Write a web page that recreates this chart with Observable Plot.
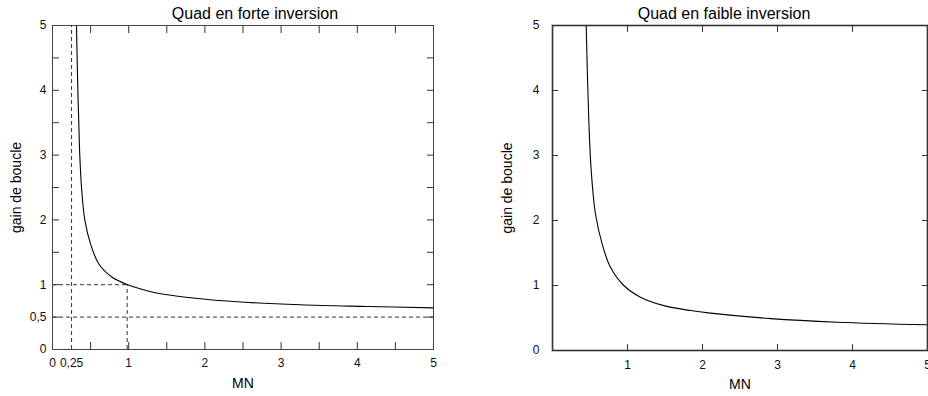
<!DOCTYPE html>
<html>
<head>
<meta charset="utf-8">
<script src="https://cdn.jsdelivr.net/npm/d3@7"></script>
<script src="https://cdn.jsdelivr.net/npm/@observablehq/plot@0.6"></script>
<style>
  html, body { margin: 0; padding: 0; background: #fff; }
  #wrap { display: flex; width: 928px; height: 396px; overflow: hidden; }
  #wrap svg { flex: none; }
</style>
</head>
<body>
<div id="wrap"></div>
<script>
// Left panel: "Quad en forte inversion"
const leftMN   = [0.315, 0.325, 0.335, 0.345, 0.358, 0.381, 0.424, 0.499, 0.608, 0.783, 0.98,  1.264, 1.483, 1.877, 2.38, 3.25, 4.13,  5.0];
const leftGain = [5.0,   4.4,   3.9,   3.5,   3.0,   2.5,   2.0,   1.63,  1.32,  1.116, 1.003, 0.90,  0.849, 0.792, 0.74, 0.69, 0.664, 0.643];

// Right panel: "Quad en faible inversion"
const rightMN   = [0.449, 0.484, 0.516, 0.573, 0.662, 0.773, 0.951, 1.173, 1.484, 1.84,  2.107, 2.91, 3.80,  5.0];
const rightGain = [5.0,   3.54,  2.77,  2.10,  1.64,  1.28,  1.0,   0.82,  0.69,  0.615, 0.575, 0.49, 0.435, 0.395];

// Tick values / labels
const leftXLabels  = [0, 0.25, 1, 2, 3, 4, 5];
const leftYLabels  = [0, 0.5, 1, 2, 3, 4, 5];
const halfSteps    = [0, 0.5, 1, 1.5, 2, 2.5, 3, 3.5, 4, 4.5, 5];
const rightXLabels = [1, 2, 3, 4, 5];
const rightYLabels = [0, 1, 2, 3, 4, 5];
const rightTicks   = [1, 2, 3, 4];

// Reference (dashed) lines on the left panel
const refVX = [{x: 0.25, y1: 0, y2: 5}, {x: 0.98, y1: 0, y2: 1}];
const refHY = [{y: 1, x1: 0, x2: 0.98}, {y: 0.5, x1: 0, x2: 5}];

const leftData  = leftMN.map((x, i) => ({x, y: leftGain[i]}));
const rightData = rightMN.map((x, i) => ({x, y: rightGain[i]}));

const fmt = d => String(d).replace(".", ",");
const font = "'Liberation Sans', Arial, Helvetica, sans-serif";

function labels(title, dxTitle, dxY) {
  return [
    Plot.text([title], {frameAnchor: "top", lineAnchor: "middle", textAnchor: "middle", dy: -12, dx: dxTitle, text: d => d, fontSize: 16, fill: "#000"}),
    Plot.text(["MN"], {frameAnchor: "bottom", lineAnchor: "middle", textAnchor: "middle", dy: 34, text: d => d, fontSize: 14, fill: "#000"}),
    Plot.text(["gain de boucle"], {frameAnchor: "left", lineAnchor: "middle", textAnchor: "middle", dx: dxY, rotate: -90, text: d => d, fontSize: 14, fill: "#000"})
  ];
}

const left = Plot.plot({
  width: 464, height: 396,
  marginLeft: 52, marginRight: 31, marginTop: 25, marginBottom: 47,
  style: {fontFamily: font, fontSize: "12px", color: "#111", background: "#fff"},
  x: {domain: [0, 5]},
  y: {domain: [0, 5]},
  marks: [
    Plot.ruleX(refVX, {x: "x", y1: "y1", y2: "y2", stroke: "#333", strokeDasharray: "4,3"}),
    Plot.ruleY(refHY, {y: "y", x1: "x1", x2: "x2", stroke: "#333", strokeDasharray: "4,3"}),
    Plot.line(leftData, {x: "x", y: "y", curve: "catmull-rom", stroke: "#000", strokeWidth: 1.1}),
    Plot.axisX({anchor: "bottom", ticks: halfSteps, tickSize: -7, tickFormat: () => "", label: null, stroke: "#333"}),
    Plot.axisX({anchor: "top", ticks: halfSteps, tickSize: -7, tickFormat: () => "", label: null, stroke: "#333"}),
    Plot.axisY({anchor: "left", ticks: halfSteps, tickSize: -7, tickFormat: () => "", label: null, stroke: "#333"}),
    Plot.axisY({anchor: "right", ticks: halfSteps, tickSize: -7, tickFormat: () => "", label: null, stroke: "#333"}),
    Plot.axisX({anchor: "bottom", ticks: leftXLabels, tickSize: 0, tickPadding: 9, tickFormat: fmt, label: null}),
    Plot.axisY({anchor: "left", ticks: leftYLabels, tickSize: 0, tickPadding: 6, tickFormat: fmt, label: null}),
    Plot.frame({stroke: "#444", strokeWidth: 1}),
    ...labels("Quad en forte inversion", 12, -36)
  ]
});

const right = Plot.plot({
  width: 464, height: 396,
  marginLeft: 88, marginRight: 1, marginTop: 25, marginBottom: 46,
  style: {fontFamily: font, fontSize: "12px", color: "#111", background: "#fff"},
  x: {domain: [0, 5]},
  y: {domain: [0, 5]},
  marks: [
    Plot.line(rightData, {x: "x", y: "y", curve: "catmull-rom", stroke: "#000", strokeWidth: 1.1}),
    Plot.axisX({anchor: "bottom", ticks: rightTicks, tickSize: -6, tickFormat: () => "", label: null, stroke: "#333"}),
    Plot.axisX({anchor: "top", ticks: rightTicks, tickSize: -6, tickFormat: () => "", label: null, stroke: "#333"}),
    Plot.axisY({anchor: "left", ticks: rightTicks, tickSize: -6, tickFormat: () => "", label: null, stroke: "#333"}),
    Plot.axisY({anchor: "right", ticks: rightTicks, tickSize: -6, tickFormat: () => "", label: null, stroke: "#333"}),
    Plot.axisX({anchor: "bottom", ticks: rightXLabels, tickSize: 0, tickPadding: 10, tickFormat: fmt, label: null}),
    Plot.axisY({anchor: "left", ticks: rightYLabels, tickSize: 0, tickPadding: 13, tickFormat: fmt, label: null}),
    Plot.frame({stroke: "#333", strokeWidth: 1.6}),
    ...labels("Quad en faible inversion", -16, -45)
  ]
});

document.getElementById("wrap").append(left, right);
</script>
</body>
</html>
